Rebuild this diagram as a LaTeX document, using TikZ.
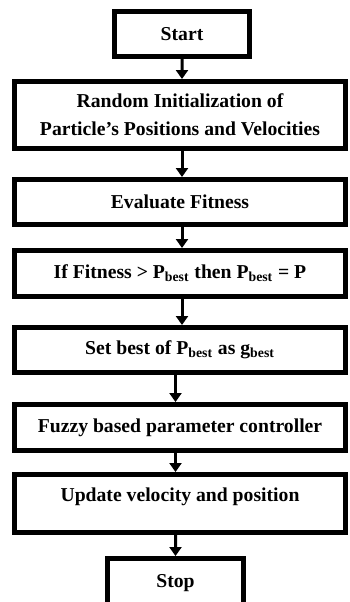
\documentclass[tikz,border=0pt]{standalone}
\usepackage{fontspec}
\setmainfont{Liberation Serif}
\usetikzlibrary{arrows.meta}

\tikzset{
	box/.style={draw, line width=0.1cm, minimum width=6.62cm, inner sep=0pt,
		align=center, font={\fontsize{11.2}{15.9}\selectfont\bfseries}},
	arr/.style={-{Triangle[length=0.18cm, width=0.24cm]}, line width=0.06cm}
}

\begin{document}
\begin{tikzpicture}[x=0.02cm, y=-0.02cm]

	\useasboundingbox (0,0) rectangle (349,602);
	\clip (0,0) rectangle (349,602);

	\node[box, minimum width=2.72cm, minimum height=0.9cm] (start) at (182,34) {Start};

	\node[box, minimum height=1.34cm] (init) at (180,115)
	{Random Initialization of\\Particle’s Positions and Velocities};

	\node[box, minimum height=0.9cm] (eval) at (180,202) {Evaluate Fitness};

	\node[box, minimum height=0.92cm] (pbest) at (180,273.5)
	{If Fitness > P\textsubscript{best} then P\textsubscript{best} = P};

	\node[box, minimum height=0.9cm] (gbest) at (180,350)
	{Set best of P\textsubscript{best} as g\textsubscript{best}};

	\node[box, minimum height=0.92cm] (fuzzy) at (180,427.5)
	{Fuzzy based parameter controller};

	\node[box, minimum height=1.16cm, text depth=0.34cm] (update) at (180,503.5)
	{Update velocity and position};

	\node[box, minimum width=2.74cm, minimum height=1cm] (stop) at (175.5,583.5) {Stop};

	% connectors
	\draw[arr] (start.south) -- ([xshift=0.04cm]init.north);
	\draw[arr] ([xshift=0.04cm]init.south) -- ([xshift=0.04cm]eval.north);
	\draw[arr] ([xshift=0.04cm]eval.south) -- ([xshift=0.04cm]pbest.north);
	\draw[arr] ([xshift=0.04cm]pbest.south) -- ([xshift=0.04cm]gbest.north);
	\draw[arr] ([xshift=-0.09cm]gbest.south) -- ([xshift=-0.09cm]fuzzy.north);
	\draw[arr] ([xshift=-0.09cm]fuzzy.south) -- ([xshift=-0.09cm]update.north);
	\draw[arr] ([xshift=-0.09cm]update.south) -- (stop.north);

\end{tikzpicture}
\end{document}
